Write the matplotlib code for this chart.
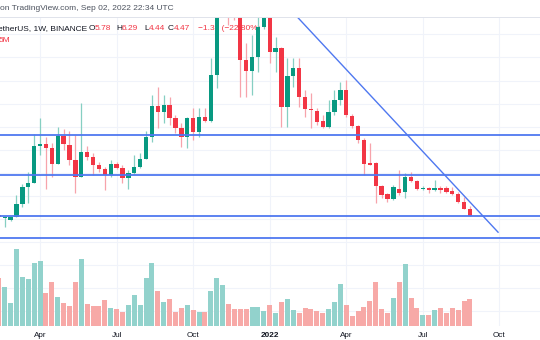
import numpy as np
import pandas as pd
import matplotlib
matplotlib.use("Agg")
import matplotlib.pyplot as plt
import matplotlib.dates as mdates
from matplotlib.lines import Line2D
from matplotlib.transforms import blended_transform_factory, Affine2D

# Weekly HNT/USDT candles, first bar opening Monday 2021-02-15
week_start = "2021-02-15"

opens = [4.69, 4.17, 3.82, 4.34, 6.60, 9.54, 10.24, 16.65, 17.00, 16.31,
         13.53, 18.39, 16.83, 14.23, 11.28, 15.61, 14.75, 13.36, 12.67, 11.62,
         13.53, 12.84, 11.10, 11.97, 13.01, 14.40, 18.21, 23.59, 22.55, 23.76,
         21.51, 19.77, 18.21, 21.51, 19.08, 21.68, 20.99, 28.96, 40.90, 44.00,
         41.50, 40.50, 31.57, 29.66, 32.09, 37.29, 38.85, 32.95, 33.65, 23.42,
         28.79, 30.18, 25.15, 23.07, 22.72, 20.99, 19.95, 22.55, 24.63, 26.36,
         21.86, 20.12, 17.69, 13.71, 13.71, 9.72, 8.33, 7.46, 9.20, 8.68,
         11.28, 10.58, 9.20, 9.37, 9.02, 9.37, 9.37, 8.85, 8.33, 6.94,
         5.78]
highs = [4.80, 4.60, 4.50, 8.16, 10.06, 12.15, 18.73, 21.51, 18.21, 17.17,
         19.95, 19.60, 19.25, 18.56, 24.11, 16.65, 15.44, 13.88, 13.01, 14.23,
         13.88, 13.36, 12.49, 15.09, 15.44, 19.25, 25.50, 26.88, 25.50, 25.15,
         22.03, 20.64, 21.68, 23.24, 23.24, 23.24, 31.91, 43.50, 47.50, 50.00,
         45.00, 42.00, 34.51, 35.90, 40.00, 40.50, 39.80, 35.55, 33.90, 31.91,
         31.91, 31.91, 26.36, 25.84, 23.24, 22.03, 24.63, 26.36, 27.75, 28.10,
         22.20, 20.29, 18.04, 17.17, 13.80, 9.89, 8.50, 9.89, 12.49, 11.97,
         12.15, 10.76, 9.72, 9.54, 10.76, 9.72, 9.72, 9.54, 8.68, 7.81,
         6.29]
lows = [4.20, 2.61, 3.70, 4.34, 6.08, 6.77, 10.24, 15.09, 9.20, 11.28,
        13.53, 15.96, 13.36, 8.50, 11.28, 14.23, 11.62, 12.15, 9.02, 11.28,
        12.67, 10.24, 9.20, 11.80, 12.84, 14.40, 17.35, 19.77, 20.64, 20.29,
        18.91, 16.48, 16.31, 17.69, 18.21, 20.82, 20.82, 26.71, 39.80, 37.60,
        38.50, 25.15, 25.15, 25.50, 29.49, 36.90, 31.05, 29.49, 19.95, 19.95,
        26.88, 23.42, 21.68, 19.77, 20.29, 19.77, 19.77, 22.03, 23.76, 21.68,
        19.77, 17.17, 11.62, 13.36, 6.77, 7.64, 6.94, 7.29, 8.16, 7.64,
        10.41, 9.02, 9.02, 8.50, 8.85, 8.50, 8.50, 8.16, 6.77, 5.73,
        4.44]
closes = [4.34, 4.40, 4.34, 6.60, 9.54, 10.24, 16.65, 17.00, 16.31, 13.53,
          18.39, 17.00, 14.23, 11.28, 15.61, 14.75, 13.36, 12.67, 11.62, 13.53,
          12.84, 11.10, 11.97, 13.01, 14.40, 18.21, 23.59, 22.55, 23.76, 21.51,
          19.77, 18.21, 21.51, 19.08, 21.68, 20.99, 28.96, 40.90, 44.00, 41.50,
          40.50, 31.57, 29.66, 32.09, 37.29, 38.85, 32.95, 33.65, 23.42, 28.79,
          30.18, 25.15, 23.07, 22.90, 20.82, 19.95, 22.55, 24.63, 26.36, 22.03,
          20.12, 17.69, 13.53, 13.36, 9.72, 8.16, 7.46, 9.54, 8.50, 11.28,
          10.58, 9.20, 9.37, 9.02, 9.37, 9.02, 8.68, 8.33, 6.94, 5.79,
          4.47]
# weekly volume, millions
volumes = [3.06, 2.47, 1.43, 4.94, 3.12, 2.99, 4.03, 4.16, 2.08, 2.80,
           1.82, 1.43, 1.24, 2.80, 4.29, 1.37, 1.24, 1.24, 1.63, 1.11,
           1.04, 0.85, 1.30, 1.95, 1.30, 3.06, 4.03, 2.21, 1.50, 1.69,
           0.85, 1.11, 1.30, 0.98, 0.85, 0.85, 2.21, 3.06, 2.60, 1.37,
           1.04, 1.04, 1.04, 1.17, 1.17, 0.91, 1.30, 0.78, 1.50, 1.69,
           0.98, 0.78, 1.11, 1.04, 0.91, 0.78, 1.04, 1.50, 2.67, 1.30,
           0.59, 0.91, 1.17, 1.56, 2.80, 1.04, 0.78, 1.76, 2.80, 3.97,
           1.76, 1.11, 0.65, 0.65, 0.98, 1.11, 0.78, 1.11, 0.98, 1.56,
           1.69]

# drawn support / resistance levels and the falling trend line
levels = [18.56, 11.62, 4.55, 0.74]
trend_dates = ["2022-01-03", "2022-10-02"]
trend_prices = [44.15, 1.62]

tick_dates = ["2021-04-05", "2021-07-05", "2021-10-04", "2022-01-03",
              "2022-04-04", "2022-07-04", "2022-10-03"]
tick_labels = ["Apr", "Jul", "Oct", "2022", "Apr", "Jul", "Oct"]

UP, DOWN = "#089981", "#f23645"
UP_WICK, DOWN_WICK = "#86cfc2", "#f7a3ab"
UP_VOL, DOWN_VOL = "#92d2cc", "#f7a9a7"
LINE = "#4f78f0"
GRID = "#f0f3fa"
TEXT = "#131722"

plt.rcParams["font.family"] = ["Liberation Sans", "DejaVu Sans"]

W, H = 540, 340
fig = plt.figure(figsize=(W / 100, H / 100), dpi=100, facecolor="white")
top_px, bot_px = 17, 325.5
ax = fig.add_axes([0, 1 - bot_px / H, 1, (bot_px - top_px) / H])
ax.set_facecolor("white")

dates = pd.date_range(week_start, periods=len(opens), freq="7D")
x = mdates.date2num(dates)
o, h, l, c = map(np.asarray, (opens, highs, lows, closes))
up = c >= o

x_ref = mdates.date2num(pd.Timestamp("2021-04-05"))

# volume histogram along the pane bottom
VOL_TOP = 20.05
vol_tf = blended_transform_factory(ax.transData,
                                   Affine2D().scale(1, 1 / VOL_TOP) + ax.transAxes)
ax.bar(x, volumes, width=5.9, color=np.where(up, UP_VOL, DOWN_VOL),
       transform=vol_tf, zorder=1, linewidth=0)

# candles
ax.vlines(x, l, h, colors=np.where(up, UP_WICK, DOWN_WICK), lw=0.9, zorder=3)
body_lo = np.minimum(o, c)
body_h = np.maximum(np.abs(c - o), 0.2)
ax.bar(x, body_h, bottom=body_lo, width=5.1, color=np.where(up, UP, DOWN),
       linewidth=0, zorder=4)

for lv in levels:
    ax.axhline(lv, color=LINE, lw=1.3, zorder=5)
ax.plot(mdates.date2num(pd.to_datetime(trend_dates)), trend_prices,
        color=LINE, lw=1.0, zorder=5, solid_capstyle="butt")

# price range and time range of the pane
ax.set_ylim(-14.47, 39.02)
ax.set_xlim(x_ref - 47.58, x_ref + 594.3)

# grid and time scale
ax.set_yticks(np.arange(-12, 40, 4))
ax.set_xticks(mdates.date2num(pd.to_datetime(tick_dates)))
ax.set_xticklabels(tick_labels)
ax.grid(True, color=GRID, lw=0.8, zorder=0)
ax.set_axisbelow(True)
ax.tick_params(axis="y", left=False, labelleft=False)
ax.tick_params(axis="x", length=0, pad=4.5, labelsize=5.9, colors=TEXT)
for lbl in ax.get_xticklabels():
    if lbl.get_text() == "2022":
        lbl.set_fontweight("bold")
for s in ax.spines.values():
    s.set_visible(False)

# header strip
fig.add_artist(Line2D([0, 1], [1 - 16.7 / H] * 2, transform=fig.transFigure,
                      color="#e0e3eb", lw=0.7))
fig.text(0.0, 1 - 9 / H, "on TradingView.com, Sep 02, 2022 22:34 UTC",
         fontsize=6.0, color="#4c525e", va="center", ha="left")


def legend_text(px, py, s, color):
    ax.text(px / W, 1 - py / H, s, transform=fig.transFigure, fontsize=6.0,
            color=color, va="center", ha="left", zorder=2, clip_on=False)


# change against the previous weekly close
change = closes[-1] - closes[-2]
pct = change / closes[-2] * 100
legend_text(-1.5, 29, "etherUS, 1W, BINANCE", TEXT)
legend_text(89, 29, "O", TEXT)
legend_text(94.5, 29, f"{opens[-1]:.2f}", DOWN)
legend_text(116, 29, "H", TEXT)
legend_text(121.5, 29, f"{highs[-1]:.2f}", DOWN)
legend_text(144, 29, "L", TEXT)
legend_text(148.5, 29, f"{lows[-1]:.2f}", DOWN)
legend_text(168, 29, "C", TEXT)
legend_text(173.5, 29, f"{closes[-1]:.2f}", DOWN)
legend_text(198, 29, f"\u2212{abs(change):.2f} (\u2212{abs(pct):.2f}%)", DOWN)
legend_text(-1.5, 41, "5M", DOWN)

fig.savefig("out.png", dpi=100, facecolor="white")
